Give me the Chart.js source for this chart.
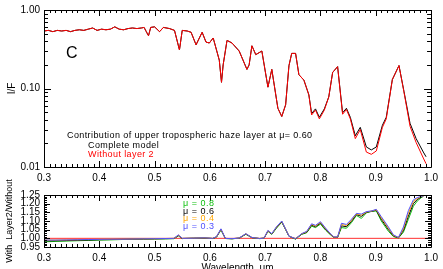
<!DOCTYPE html>
<html>
<head>
<meta charset="utf-8">
<script src="https://cdn.jsdelivr.net/npm/chart.js@4.4.1/dist/chart.umd.min.js"></script>
<style>
html, body { margin:0; padding:0; background:#fff; overflow:hidden; width:443px; height:269px; }
#c1 { position:absolute; left:0; top:0; }
#c2 { position:absolute; left:0; top:168px; }
</style>
</head>
<body>
<canvas id="c1" width="443" height="185"></canvas>
<canvas id="c2" width="443" height="110"></canvas>
<script>
// top panel: I/F spectra
var wl = [0.300,0.308,0.316,0.324,0.332,0.340,0.348,0.356,0.364,0.372,0.380,0.388,0.396,0.404,0.412,0.420,0.428,0.436,0.444,0.452,
  0.460,0.468,0.476,0.481,0.485,0.489,0.493,0.500,0.509,0.516,0.527,0.536,0.545,0.550,0.559,0.566,0.575,0.586,0.593,0.599,
  0.606,0.617,0.621,0.624,0.631,0.640,0.653,0.667,0.671,0.676,0.683,0.694,0.705,0.712,0.723,0.730,0.737,0.743,0.748,0.755,
  0.761,0.770,0.779,0.784,0.791,0.798,0.807,0.815,0.822,0.831,0.840,0.847,0.854,0.863,0.872,0.883,0.892,0.901,0.912,0.919,
  0.930,0.942,0.951,0.962,0.973,0.986,0.991];
var complete = [0.54,0.55,0.53,0.55,0.54,0.55,0.53,0.55,0.56,0.55,0.57,0.59,0.55,0.57,0.56,0.57,0.61,0.57,0.56,0.58,
  0.59,0.58,0.59,0.60,0.53,0.47,0.60,0.61,0.53,0.60,0.58,0.55,0.31,0.55,0.54,0.52,0.36,0.52,0.39,0.38,
  0.44,0.23,0.12,0.20,0.41,0.38,0.30,0.175,0.20,0.35,0.27,0.30,0.104,0.175,0.056,0.044,0.062,0.195,0.28,0.28,
  0.15,0.128,0.083,0.048,0.055,0.043,0.055,0.078,0.16,0.19,0.049,0.056,0.043,0.025,0.032,0.018,0.0165,0.018,0.034,0.043,
  0.13,0.196,0.092,0.036,0.023,0.0155,0.0135];
var noLayer2 = [0.54,0.55,0.53,0.55,0.54,0.55,0.53,0.55,0.56,0.55,0.57,0.59,0.55,0.57,0.56,0.57,0.61,0.57,0.56,0.58,
  0.59,0.58,0.59,0.60,0.53,0.47,0.60,0.61,0.53,0.60,0.58,0.55,0.31,0.55,0.54,0.52,0.36,0.52,0.39,0.38,
  0.44,0.23,0.12,0.20,0.41,0.38,0.30,0.175,0.20,0.35,0.27,0.30,0.104,0.175,0.056,0.044,0.062,0.195,0.28,0.28,
  0.15,0.128,0.083,0.046,0.053,0.041,0.053,0.078,0.16,0.19,0.047,0.054,0.041,0.023,0.030,0.0155,0.0145,0.016,0.032,0.041,
  0.13,0.196,0.090,0.033,0.0205,0.013,0.011];

// bottom panel: ratio with layer 2 / without
var ratioWl = [0.300,0.320,0.340,0.360,0.380,0.400,0.420,0.440,0.460,0.480,0.500,0.520,0.535,0.543,0.550,0.570,0.590,0.605,0.612,0.620,
  0.628,0.640,0.653,0.665,0.676,0.690,0.698,0.705,0.712,0.720,0.730,0.739,0.743,0.755,0.766,0.775,0.784,0.791,0.800,0.809,
  0.817,0.824,0.831,0.838,0.847,0.856,0.865,0.874,0.883,0.892,0.901,0.910,0.923,0.932,0.941,0.950,0.959,0.968,0.975,0.982,0.986];
var mu03 = [0.990,0.990,0.991,0.992,0.993,0.994,0.995,0.995,0.996,0.997,0.998,0.999,1.000,1.020,1.000,1.001,1.003,1.000,1.010,1.055,
  1.000,0.998,1.002,1.027,1.005,0.999,1.002,1.046,1.027,1.065,1.100,1.040,1.013,0.998,1.027,1.040,1.084,1.075,1.096,1.060,
  1.030,1.008,1.008,1.087,1.080,1.110,1.144,1.140,1.154,1.158,1.167,1.125,1.065,1.020,1.005,1.065,1.160,1.222,1.235,1.242,1.245];
var mu04 = [0.990,0.990,0.991,0.992,0.993,0.994,0.995,0.995,0.996,0.997,0.998,0.999,1.000,1.018,1.000,1.001,1.003,1.000,1.009,1.053,
  1.000,0.998,1.002,1.026,1.005,0.999,1.002,1.044,1.026,1.063,1.098,1.040,1.013,0.998,1.026,1.038,1.080,1.071,1.092,1.057,
  1.028,1.007,1.007,1.080,1.074,1.104,1.141,1.134,1.152,1.157,1.165,1.118,1.058,1.017,1.004,1.055,1.145,1.212,1.230,1.240,1.244];
var mu06 = [0.985,0.986,0.987,0.989,0.990,0.992,0.993,0.994,0.995,0.996,0.997,0.998,0.999,1.016,0.999,1.001,1.002,0.999,1.008,1.051,
  0.999,0.998,1.001,1.025,1.004,0.999,1.001,1.042,1.025,1.060,1.096,1.039,1.012,0.997,1.025,1.035,1.076,1.067,1.088,1.053,
  1.026,1.006,1.006,1.072,1.067,1.098,1.137,1.127,1.150,1.156,1.162,1.110,1.050,1.014,1.003,1.045,1.128,1.200,1.224,1.238,1.243];
var mu08 = [0.980,0.982,0.984,0.986,0.988,0.990,0.991,0.993,0.994,0.995,0.996,0.997,0.998,1.014,0.999,1.000,1.002,0.999,1.007,1.048,
  0.999,0.997,1.001,1.023,1.004,0.998,1.001,1.040,1.023,1.057,1.093,1.038,1.012,0.995,1.023,1.032,1.070,1.062,1.082,1.048,
  1.023,1.005,1.005,1.062,1.058,1.090,1.132,1.115,1.147,1.155,1.158,1.100,1.040,1.010,1.002,1.035,1.110,1.185,1.215,1.234,1.242];
var refWl = [0.3, 1.0];
var refVal = [1.0, 1.0];

var xTicks = [0.3, 0.4, 0.5, 0.6, 0.7, 0.8, 0.9, 1.0];
var muLabels = ['\u03bc = 0.8', '\u03bc = 0.6', '\u03bc = 0.4', '\u03bc = 0.3'];
var muColors = ['#10c010', '#000000', '#ffa500', '#5050ff'];

Chart.defaults.font.family = '"Liberation Sans", Arial, sans-serif';
Chart.defaults.font.size = 10;
Chart.defaults.color = '#000';

function pts(xs, ys) {
  return xs.map(function (x, i) { return { x: x, y: ys[i] }; });
}

function line(label, xs, ys, color) {
  return { label: label, data: pts(xs, ys), borderColor: color, borderWidth: 1,
    pointRadius: 0, fill: false, tension: 0 };
}

// box frame with inward ticks on all four sides (IDL style)
function frameTicks(yMajor, yMinor, yMajLen, yMinLen, extra) {
  return {
    id: 'frame',
    afterDraw: function (chart) {
      var ctx = chart.ctx, a = chart.chartArea;
      var sx = chart.scales.x, sy = chart.scales.y;
      ctx.save();
      ctx.strokeStyle = '#000';
      ctx.lineWidth = 1;
      ctx.beginPath();
      ctx.rect(Math.round(a.left) + 0.5, Math.round(a.top) + 0.5,
        Math.round(a.right - a.left), Math.round(a.bottom - a.top));
      ctx.stroke();
      ctx.beginPath();
      for (var i = 0; i <= 70; i++) {
        var v = 0.3 + i * 0.01;
        var px = Math.round(sx.getPixelForValue(v)) + 0.5;
        var len = (i % 10 === 0) ? 6 : 3;
        ctx.moveTo(px, a.bottom); ctx.lineTo(px, a.bottom - len);
        ctx.moveTo(px, a.top); ctx.lineTo(px, a.top + len);
      }
      yMajor.forEach(function (v) {
        var py = Math.round(sy.getPixelForValue(v)) + 0.5;
        ctx.moveTo(a.left, py); ctx.lineTo(a.left + yMajLen, py);
        ctx.moveTo(a.right, py); ctx.lineTo(a.right - yMajLen, py);
      });
      yMinor.forEach(function (v) {
        var py = Math.round(sy.getPixelForValue(v)) + 0.5;
        ctx.moveTo(a.left, py); ctx.lineTo(a.left + yMinLen, py);
        ctx.moveTo(a.right, py); ctx.lineTo(a.right - yMinLen, py);
      });
      ctx.stroke();
      if (extra) extra(ctx, chart);
      ctx.restore();
    }
  };
}

// log ticks for top panel
var logMajor = [0.01, 0.1, 1];
var logMinor = [];
[0.01, 0.1].forEach(function (d) { for (var k = 2; k <= 9; k++) logMinor.push(d * k); });

new Chart(document.getElementById('c1'), {
  type: 'line',
  data: {
    datasets: [
      line('Without layer 2', wl, noLayer2, '#ff0000'),
      line('Complete model', wl, complete, '#000000')
    ]
  },
  options: {
    responsive: false,
    animation: false,
    layout: { padding: { top: 6, right: 9, left: 0, bottom: 0 } },
    plugins: { legend: { display: false }, tooltip: { enabled: false } },
    scales: {
      x: {
        type: 'linear', min: 0.3, max: 1.0,
        grid: { display: false, drawTicks: false }, border: { display: false },
        afterBuildTicks: function (s) { s.ticks = xTicks.map(function (v) { return { value: v }; }); },
        ticks: { padding: 5, maxRotation: 0, autoSkip: false, callback: function (v) { return v.toFixed(1); } },
        afterFit: function (s) { s.height = 18; }
      },
      y: {
        type: 'logarithmic', min: 0.01, max: 1,
        grid: { display: false, drawTicks: false }, border: { display: false },
        afterBuildTicks: function (s) { s.ticks = logMajor.map(function (v) { return { value: v }; }); },
        ticks: { padding: 4, autoSkip: false, callback: function (v) { return v.toFixed(2); } },
        title: { display: true, text: 'I/F', font: { size: 10 }, padding: { top: 6, bottom: 0 } },
        afterFit: function (s) { s.width = 44; }
      }
    }
  },
  plugins: [frameTicks(logMajor, logMinor, 7, 4, function (ctx) {
    ctx.fillStyle = '#000';
    ctx.textBaseline = 'alphabetic';
    ctx.font = '16px "Liberation Sans", Arial, sans-serif';
    ctx.fillText('C', 66, 58);
    ctx.font = '9px "Liberation Sans", Arial, sans-serif';
    ctx.letterSpacing = '0.4px';
    ctx.fillText('Contribution of upper tropospheric haze layer at \u03bc= 0.60', 67, 138);
    ctx.fillText('Complete model', 88, 148);
    ctx.fillStyle = '#ff0000';
    ctx.fillText('Without layer 2', 88, 157);
  })]
});

var ratioMajor = [0.95, 1.00, 1.05, 1.10, 1.15, 1.20, 1.25];
var ratioMinor = [];
for (var k = 96; k <= 124; k++) { if (k % 5 !== 0) ratioMinor.push(k / 100); }

new Chart(document.getElementById('c2'), {
  type: 'line',
  data: {
    datasets: [
      line(muLabels[3], ratioWl, mu03, muColors[3]),
      line(muLabels[2], ratioWl, mu04, muColors[2]),
      line(muLabels[1], ratioWl, mu06, muColors[1]),
      line(muLabels[0], ratioWl, mu08, muColors[0]),
      line('ref', refWl, refVal, '#ff3030')
    ]
  },
  options: {
    responsive: false,
    animation: false,
    layout: { padding: { top: 27, right: 9, left: 0, bottom: 0 } },
    plugins: { legend: { display: false }, tooltip: { enabled: false } },
    scales: {
      x: {
        type: 'linear', min: 0.3, max: 1.0,
        grid: { display: false, drawTicks: false }, border: { display: false },
        afterBuildTicks: function (s) { s.ticks = xTicks.map(function (v) { return { value: v }; }); },
        ticks: { padding: 5, maxRotation: 0, autoSkip: false, callback: function (v) { return v.toFixed(1); } },
        afterFit: function (s) { s.height = 31; }
      },
      y: {
        type: 'linear', min: 0.95, max: 1.25,
        grid: { display: false, drawTicks: false }, border: { display: false },
        afterBuildTicks: function (s) { s.ticks = ratioMajor.map(function (v) { return { value: v }; }); },
        ticks: { padding: 4, autoSkip: false, callback: function (v) { return v.toFixed(2); } },
        title: { display: true, text: 'With  Layer2/Without', font: { size: 9 }, padding: { top: 4, bottom: 0 } },
        afterFit: function (s) { s.width = 44; }
      }
    }
  },
  plugins: [frameTicks(ratioMajor, ratioMinor, 6, 3, function (ctx, chart) {
    ctx.textBaseline = 'alphabetic';
    ctx.font = '9px "Liberation Sans", Arial, sans-serif';
    ctx.letterSpacing = '0.5px';
    muLabels.forEach(function (t, i) {
      ctx.fillStyle = muColors[i];
      ctx.fillText(t, 183, 38 + i * 7.5);
    });
    ctx.letterSpacing = '0px';
    ctx.fillStyle = '#000';
    ctx.font = '10px "Liberation Sans", Arial, sans-serif';
    ctx.textAlign = 'center';
    var a = chart.chartArea;
    ctx.fillText('Wavelength, \u03bcm', (a.left + a.right) / 2, 103);
  })]
});
</script>
</body>
</html>
